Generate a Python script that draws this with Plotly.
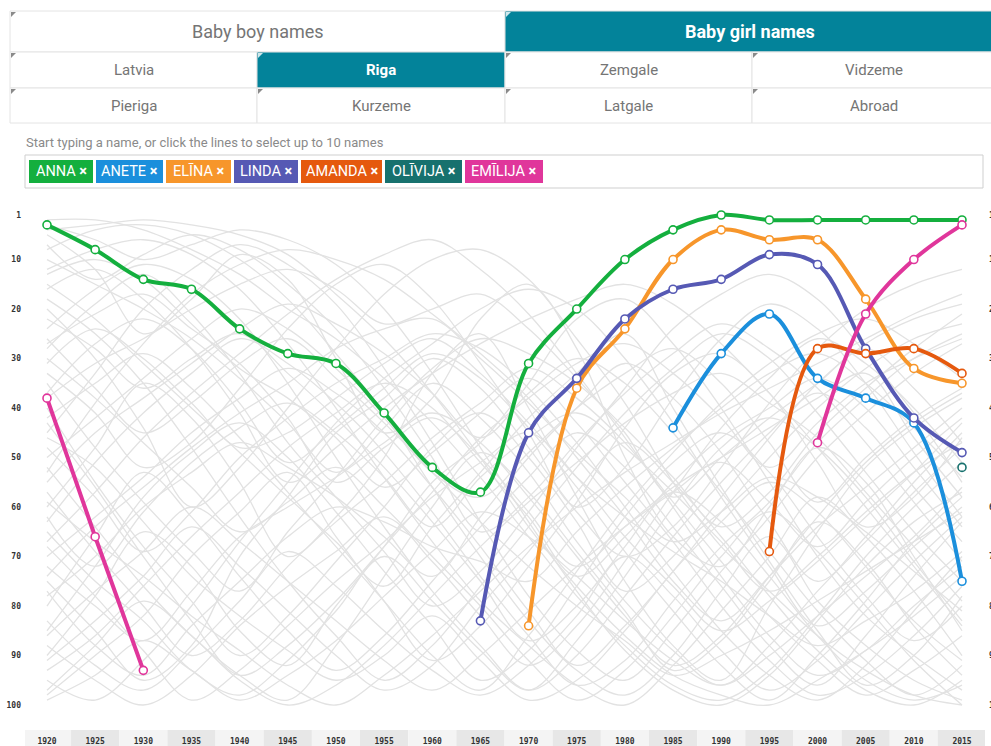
import plotly.graph_objects as go

years = list(range(1920, 2020, 5))
N = None

# Highlighted names: rank per year (1 = most popular), None = not in top 100
anna    = [3, 8, 14, 16, 24, 29, 31, 41, 52, 57, 31, 20, 10, 4, 1, 2, 2, 2, 2, 2]
anete   = [N]*13 + [44, 29, 21, 34, 38, 43, 75]
elina   = [N]*10 + [84, 36, 24, 10, 4, 6, 6, 18, 32, 35]
linda   = [N]*9 + [83, 45, 34, 22, 16, 14, 9, 11, 28, 42, 49]
amanda  = [N]*15 + [69, 28, 29, 28, 33]
olivija = [N]*19 + [52]
emilija = [38, 66, 93] + [N]*13 + [47, 21, 10, 3]

names  = ["ANNA", "ANETE", "ELĪNA", "LINDA", "AMANDA", "OLĪVIJA", "EMĪLIJA"]
series = [anna, anete, elina, linda, amanda, olivija, emilija]
colors = ["#14af3e", "#1b8fdc", "#f7962b", "#5659b4", "#e5590e", "#17716e", "#e0369b"]

# Other names (background web), ranks estimated per year
background_ranks = [
    [5,12,25,18,9,14,30,45,38,22,15,28,50,66,72,60,48,55,70,85],
    [60,48,35,42,55,70,62,50,33,25,40,58,75,88,95,80,65,52,44,38],
    [90,78,65,72,85,92,80,68,55,47,35,22,18,27,40,55,70,82,90,97],
    [20,30,44,60,52,40,28,17,10,8,14,26,39,55,68,77,86,93,98,100],
    [45,33,20,12,7,11,19,32,47,63,78,89,95,85,73,62,50,41,33,27],
    [75,85,95,88,70,58,45,38,30,36,48,61,70,64,52,39,28,20,15,12],
    [12,8,6,9,16,27,40,54,67,79,88,96,100,92,81,70,58,66,77,90],
    [33,41,52,47,36,24,15,11,18,31,45,60,52,38,26,19,24,35,49,62],
    [98,90,82,70,61,53,66,79,91,84,72,59,44,33,29,37,51,64,58,46],
    [52,64,76,86,94,99,88,74,60,49,57,69,81,93,87,75,63,71,84,94],
    [8,4,3,5,10,18,29,41,56,70,83,93,98,90,77,66,79,88,95,99],
    [67,57,46,37,29,21,14,9,6,12,21,33,46,60,74,86,94,89,80,72],
    [28,19,13,21,33,47,58,69,80,73,61,48,36,24,17,13,18,29,41,55],
    [85,72,58,49,43,50,61,73,84,95,89,76,62,51,45,53,66,78,87,80],
    [40,55,68,79,90,82,71,60,48,41,50,63,77,70,58,46,35,27,22,19],
    [15,22,31,40,49,58,67,76,64,53,42,33,25,40,56,71,85,96,90,78],
    [70,62,54,45,38,32,37,45,56,68,81,92,84,73,61,50,40,32,26,23],
    [95,99,91,80,67,55,43,34,27,20,16,20,30,43,58,72,84,77,68,60],
    [24,16,11,14,22,35,50,64,77,88,97,90,78,66,55,45,37,44,56,67],
    [57,69,80,90,83,72,63,55,46,39,32,38,47,59,71,82,91,98,93,86],
    [3,6,10,7,4,6,11,20,33,48,63,77,89,97,100,94,83,72,63,57],
    [80,66,53,62,74,85,93,86,75,64,54,45,52,64,76,88,96,86,74,63],
    [37,27,22,28,39,51,44,36,29,34,44,56,69,81,92,99,90,79,67,58],
    [48,58,69,61,50,42,35,30,25,28,36,47,60,73,85,94,99,92,81,70],
    [88,95,100,94,84,76,69,62,71,82,92,84,71,57,44,34,26,31,40,51],
    [18,25,35,48,62,75,86,95,88,76,64,52,41,32,25,30,41,53,65,75],
    [63,51,41,33,26,31,39,49,61,74,86,96,91,79,68,59,47,38,30,25],
    [10,15,20,26,34,43,53,44,35,42,53,67,79,89,96,88,77,67,57,48],
    [72,80,87,77,66,60,54,47,41,47,58,70,82,92,86,74,62,51,43,37],
    [30,38,47,56,65,59,52,60,70,80,91,99,93,82,70,61,69,80,91,100],
    [93,86,76,66,57,48,41,35,40,51,62,74,66,55,46,40,34,40,52,64],
    [42,35,29,36,46,57,68,79,90,97,86,73,60,49,39,31,25,22,27,34],
    [55,45,38,31,24,19,23,29,37,46,37,30,35,45,57,69,81,91,98,92],
    [78,70,60,53,47,52,58,66,74,62,50,40,31,38,49,63,75,66,55,45],
    [22,28,36,30,25,33,42,52,63,75,87,80,68,57,63,74,86,95,99,96],
    [65,75,83,93,98,91,81,70,79,89,97,87,74,60,48,42,48,58,71,83],
    [2,2,4,8,13,20,26,34,43,54,66,78,88,96,99,93,82,70,60,51],
    [50,42,34,26,20,24,32,42,53,58,49,40,33,28,35,47,59,50,42,36],
    [83,92,97,89,79,69,76,85,93,98,92,82,70,78,89,97,91,81,71,62],
    [35,48,59,69,77,65,54,42,32,26,29,35,44,54,64,57,45,36,28,21],
    [97,88,79,86,95,100,96,88,78,68,59,51,43,37,33,39,46,57,68,79],
    [13,10,14,23,32,38,46,56,49,41,34,43,55,67,80,91,98,94,86,76],
    [46,52,63,74,82,89,95,90,82,91,99,95,85,73,63,55,61,72,83,91],
    [27,21,17,24,31,42,55,48,42,50,61,72,64,56,50,44,38,33,46,58],
    [68,78,89,99,93,84,75,67,58,51,45,54,66,76,85,79,71,62,53,43],
    [7,14,9,5,8,15,24,36,50,65,58,47,37,29,23,28,36,47,59,71],
    [91,83,74,64,72,81,90,97,92,80,69,57,47,55,66,78,89,97,100,95],
    [38,31,26,20,15,12,16,23,20,17,24,34,45,58,50,42,35,28,36,47],
    [59,67,74,82,89,96,100,94,86,77,68,60,53,47,41,36,31,26,21,17],
    [16,12,18,28,41,55,48,40,33,27,22,18,15,19,27,37,48,60,72,84],
    [74,64,56,48,41,35,28,24,22,30,39,49,58,67,61,54,58,65,73,81],
    [26,36,45,39,31,26,34,43,53,63,72,80,87,94,90,85,79,73,67,61],
    [86,77,69,60,67,75,83,91,97,90,81,72,64,57,51,59,68,59,50,42],
    [43,56,70,83,94,88,79,68,57,46,38,31,27,33,42,52,43,35,30,26],
    [4,3,2,3,5,9,17,26,37,50,64,76,86,94,98,100,95,89,82,74],
    [99,94,87,93,99,94,87,78,69,61,66,74,83,91,96,90,82,74,66,56],
    [62,72,61,51,44,39,45,54,64,54,46,41,48,57,67,77,70,61,53,47],
    [31,24,30,39,48,45,38,31,26,33,43,54,62,69,75,82,88,83,77,69],
    [77,88,94,84,75,66,60,63,68,71,75,65,56,48,40,33,29,35,44,54],
    [53,39,27,17,11,8,10,14,21,29,38,50,62,75,83,74,64,56,48,40],
]

ytick_vals = [1, 10, 20, 30, 40, 50, 60, 70, 80, 90, 100]
ytick_text = [str(v) for v in ytick_vals]

top_buttons = ["Baby boy names", "Baby girl names"]
region_row1 = ["Latvia", "Riga", "Zemgale", "Vidzeme"]
region_row2 = ["Pieriga", "Kurzeme", "Latgale", "Abroad"]
hint_text = "Start typing a name, or click the lines to select up to 10 names"

W, H = 991, 746
L, R, T, B = 25, 985, 205, 715
PW, PH = R - L, B - T
TEAL = "#03839a"

def px(x):
    return (x - L) / PW

def py(y):
    return (B - y) / PH

fig = go.Figure()

for vals in background_ranks:
    fig.add_trace(go.Scatter(x=years, y=vals, mode="lines",
                             line=dict(color="#e2e2e2", width=1.3, shape="spline", smoothing=1.0),
                             hoverinfo="skip", showlegend=False))

for name, vals, col in zip(names, series, colors):
    fig.add_trace(go.Scatter(x=years, y=vals, mode="lines+markers", name=name,
                             line=dict(color=col, width=4, shape="spline", smoothing=1.0),
                             marker=dict(size=8, color="white", line=dict(color=col, width=1.6)),
                             connectgaps=False, showlegend=False))

# invisible trace for right-hand axis
fig.add_trace(go.Scatter(x=[years[0]], y=[50], yaxis="y2", mode="markers",
                         marker=dict(opacity=0), hoverinfo="skip", showlegend=False))

shapes = []
annotations = []

# year cells at the bottom
for i, yr in enumerate(years):
    shapes.append(dict(type="rect", xref="x", yref="paper", x0=yr - 2.5, x1=yr + 2.5,
                       y0=py(746), y1=py(730), line=dict(width=0),
                       fillcolor="#f4f4f4" if i % 2 == 0 else "#e7e7e7", layer="below"))

def cell(x0, x1, y0, y1, text, active, size, bold=False):
    shapes.append(dict(type="rect", xref="paper", yref="paper", x0=px(x0), x1=px(x1),
                       y0=py(y1), y1=py(y0), line=dict(color="#e4e4e4", width=1),
                       fillcolor=TEAL if active else "white"))
    shapes.append(dict(type="path", xref="paper", yref="paper",
                       path=f"M {px(x0+1)},{py(y0+1)} L {px(x0+6)},{py(y0+1)} L {px(x0+1)},{py(y0+6)} Z",
                       fillcolor="#8a8a8a" if not active else "#d0e8ec", line=dict(width=0)))
    t = f"<b>{text}</b>" if (active or bold) else text
    annotations.append(dict(xref="paper", yref="paper", x=px((x0 + x1) / 2), y=py((y0 + y1) / 2),
                            text=t, showarrow=False, xanchor="center", yanchor="middle",
                            font=dict(family="Roboto", size=size, color="white" if active else "#757575")))

cell(10, 505, 11, 52, top_buttons[0], False, 18)
cell(505, 995, 11, 52, top_buttons[1], True, 18)
xs = [10, 257, 505, 752, 995]
for i, t in enumerate(region_row1):
    cell(xs[i], xs[i + 1], 52, 88, t, t == "Riga", 15)
for i, t in enumerate(region_row2):
    cell(xs[i], xs[i + 1], 88, 123, t, False, 15)

annotations.append(dict(xref="paper", yref="paper", x=px(24), y=py(142), text=hint_text,
                        showarrow=False, xanchor="left", yanchor="middle",
                        font=dict(family="Roboto", size=13, color="#8a8a8a")))

shapes.append(dict(type="rect", xref="paper", yref="paper", x0=px(25), x1=px(983),
                   y0=py(188), y1=py(155), line=dict(color="#cfcfcf", width=1), fillcolor="white"))

tag_edges = [(29, 93), (96, 163), (166, 231), (234, 298), (301, 382), (385, 462), (465, 543)]
for (x0, x1), name, col in zip(tag_edges, names, colors):
    shapes.append(dict(type="rect", xref="paper", yref="paper", x0=px(x0), x1=px(x1),
                       y0=py(183), y1=py(160), line=dict(width=0), fillcolor=col))
    annotations.append(dict(xref="paper", yref="paper", x=px((x0 + x1) / 2), y=py(171.5),
                            text=f"{name} <b>×</b>", showarrow=False, xanchor="center", yanchor="middle",
                            font=dict(family="Roboto", size=14.5, color="white")))

yrange = [100 + (B - 705) / 4.9495, 1 - (215 - T) / 4.9495]
xscale = 48.16 / 5
xrange = [1920 - (47 - L) / xscale, 2015 + (R - 962) / xscale]

tickfont = dict(family="DejaVu Sans Mono", size=8, color="#333333")

fig.update_layout(
    width=W, height=H,
    margin=dict(l=L, r=W - R, t=T, b=H - B, autoexpand=False),
    paper_bgcolor="white", plot_bgcolor="white",
    hovermode=False, showlegend=False,
    shapes=shapes, annotations=annotations,
    xaxis=dict(range=xrange, tickvals=years, ticktext=[f"<b>{y}</b>" for y in years],
               showgrid=False, zeroline=False, showline=False, ticks="",
               tickfont=tickfont, ticklabelstandoff=20, fixedrange=True),
    yaxis=dict(range=yrange, tickvals=ytick_vals, ticktext=[f"<b>{t}</b>" for t in ytick_text],
               showgrid=False, zeroline=False, showline=False, ticks="",
               tickfont=tickfont, ticklabelstandoff=3, fixedrange=True),
    yaxis2=dict(range=yrange, overlaying="y", side="right", tickvals=ytick_vals,
                ticktext=[f"<b>{t}</b>" for t in ytick_text],
                showgrid=False, zeroline=False, showline=False, ticks="",
                tickfont=tickfont, ticklabelstandoff=3, fixedrange=True, automargin=False),
)

fig.write_html("out.html", config={"displayModeBar": False},
               post_script="document.body.style.margin='0';document.body.style.overflow='hidden';")
